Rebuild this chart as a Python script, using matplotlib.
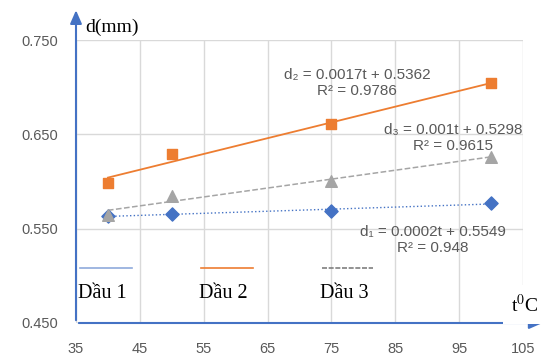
import matplotlib
matplotlib.use('Agg')
import numpy as np
import matplotlib.pyplot as plt

# temperatures (deg C) and diameters (mm)
temps = [40, 50, 75, 100]
d1 = [0.563, 0.566, 0.569, 0.577]
d2 = [0.598, 0.629, 0.661, 0.704]
d3 = [0.565, 0.585, 0.601, 0.626]

xticks = [35, 45, 55, 65, 75, 85, 95, 105]
yticks = [0.450, 0.550, 0.650, 0.750]

eq1 = 'd\u2081 = 0.0002t + 0.5549\nR\u00b2 = 0.948'
eq2 = 'd\u2082 = 0.0017t + 0.5362\nR\u00b2 = 0.9786'
eq3 = 'd\u2083 = 0.001t + 0.5298\nR\u00b2 = 0.9615'

blue = '#4472C4'
orange = '#ED7D31'
gray = '#A5A5A5'
txtgray = '#595959'

plt.rcParams['mathtext.fontset'] = 'stix'
sans = ['Liberation Sans', 'DejaVu Sans']
serif = ['Liberation Serif', 'DejaVu Serif']

fig = plt.figure(figsize=(5.45, 3.56), dpi=100)
ax = fig.add_axes([76/545, 1-323/356, (523-76)/545, (323-40)/356])

# linear trendlines
t = np.array(temps)
for d, c, ls, lw in [(d1, blue, ':', 1.0), (d2, orange, '-', 1.3), (d3, gray, '--', 1.1)]:
    k, b = np.polyfit(t, d, 1)
    ax.plot(t, k*t + b, color=c, ls=ls, lw=lw, zorder=2)

ax.scatter(temps, d1, marker='D', s=45, color=blue, zorder=3)
ax.scatter(temps, d3, marker='^', s=70, color=gray, zorder=4)
ax.scatter(temps, d2, marker='s', s=55, color=orange, zorder=3)

ax.set_xlim(35, 105)
ax.set_ylim(0.450, 0.750)
ax.set_xticks(xticks)
ax.set_yticks(yticks)
ax.set_xticklabels([str(v) for v in xticks], family=sans, fontsize=10.5, color=txtgray)
ax.set_yticklabels(['%.3f' % v for v in yticks], family=sans, fontsize=10.5, color=txtgray)
ax.tick_params(length=0)
ax.tick_params(axis='x', pad=14)
ax.tick_params(axis='y', pad=13)
ax.grid(True, color='#D9D9D9', lw=1.0, zorder=0)
for s in ax.spines.values():
    s.set_visible(False)

# axis arrows
ax.annotate('', xy=(0, 1.115), xytext=(0, 0), xycoords='axes fraction',
            arrowprops=dict(arrowstyle='-|>,head_length=0.8,head_width=0.35', color=blue, lw=1.5),
            annotation_clip=False)
ax.annotate('', xy=(1.05, 0), xytext=(0, 0), xycoords='axes fraction',
            arrowprops=dict(arrowstyle='-|>,head_length=0.8,head_width=0.35', color=blue, lw=1.5),
            annotation_clip=False)

ax.text(0.02, 1.045, 'd(mm)', transform=ax.transAxes, family=serif, fontsize=14,
        ha='left', va='center')
ax.text(1.035, 0.065, 't$^{0}$C', transform=ax.transAxes, family=serif, fontsize=14,
        ha='right', va='center', bbox=dict(fc='white', ec='none', pad=6), zorder=5)

# trendline equations
for eq, x, y in [(eq2, 0.629, 0.848), (eq3, 0.843, 0.654), (eq1, 0.799, 0.293)]:
    ax.text(x, y, eq, transform=ax.transAxes, family=sans, fontsize=11,
            color=txtgray, ha='center', va='center', multialignment='center',
            linespacing=1.2)

# legend
leg = [('D\u1ea7u 1', '#8FAADC', '-', 0.01), ('D\u1ea7u 2', orange, '-', 0.28),
       ('D\u1ea7u 3', '#7F7F7F', (0, (3, 1)), 0.55)]
for name, c, ls, x0 in leg:
    ax.plot([x0, x0 + 0.115], [0.195, 0.195], transform=ax.transAxes, color=c,
            ls=ls, lw=1.2, clip_on=False, zorder=5)
    ax.text(x0 - 0.005, 0.105, name, transform=ax.transAxes, family=serif,
            fontsize=14.5, ha='left', va='center', zorder=5)

fig.savefig('out.png', dpi=100)
